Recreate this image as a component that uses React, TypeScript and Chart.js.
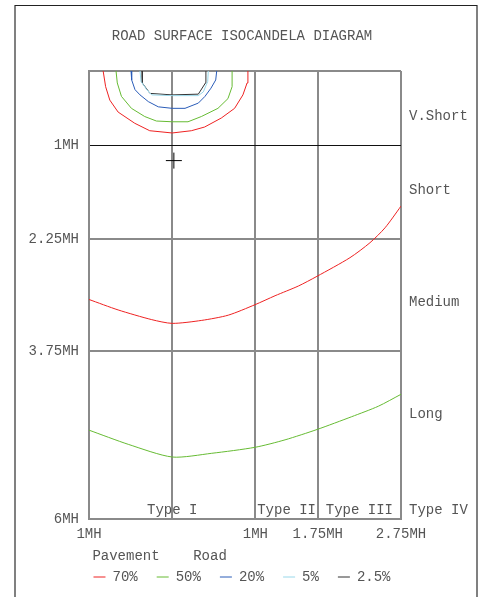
import { useEffect, useRef } from "react";
import { Chart, registerables } from "chart.js";

Chart.register(...registerables);

const FONT = "'Liberation Mono', 'DejaVu Sans Mono', monospace";
const TEXT_COLOR = "#555555";
const GRID_COLOR = "#8a8a8a";

const titleText = "ROAD SURFACE ISOCANDELA DIAGRAM";
const legendTitle = " Pavement    Road";

const xTickValues = [-1, 0, 1, 1.75, 2.75];
const xTickLabels = ["1MH", "", "1MH", "1.75MH", "2.75MH"];
const yTickValues = [0, 1, 2.25, 3.75, 6];
const yTickLabels = ["", "1MH", "2.25MH", "3.75MH", "6MH"];

const zoneLabels = ["V.Short", "Short", "Medium", "Long"];
const zonePositions = [0.6, 1.6, 3.1, 4.6];

const typeLabels = ["Type I", "Type II", "Type III", "Type IV"];
const typeCenters = [0, 1.375, 2.25, 3.2];

const legendLabels = ["70%", "50%", "20%", "5%", "2.5%"];
const seriesColors = ["#ee2222", "#66bb33", "#2a5cb8", "#99d8ea", "#333333"];

// Isocandela contours near the luminaire (x: MH across, y: MH along road)
const iso70X = [-0.83, -0.8, -0.75, -0.65, -0.45, -0.27, 0, 0.23, 0.39, 0.59, 0.75, 0.85, 0.9, 0.91];
const iso70Y = [0, 0.21, 0.39, 0.55, 0.7, 0.8, 0.83, 0.8, 0.75, 0.63, 0.5, 0.32, 0.16, 0];
const iso50X = [-0.675, -0.66, -0.61, -0.49, -0.33, -0.19, 0, 0.19, 0.35, 0.55, 0.67, 0.72, 0.72];
const iso50Y = [0, 0.16, 0.34, 0.5, 0.61, 0.67, 0.68, 0.68, 0.61, 0.5, 0.37, 0.21, 0];
const iso20X = [-0.495, -0.487, -0.447, -0.387, -0.287, -0.167, 0, 0.154, 0.314, 0.394, 0.466, 0.523, 0.535];
const iso20Y = [0, 0.12, 0.25, 0.32, 0.41, 0.48, 0.5, 0.5, 0.43, 0.34, 0.23, 0.12, 0];
const iso5X = [-0.387, -0.375, -0.306, -0.246, 0, 0.314, 0.374, 0.427, 0.434];
const iso5Y = [0, 0.14, 0.25, 0.32, 0.33, 0.33, 0.28, 0.14, 0];
const iso25X = [-0.36, -0.36, -0.267, 0, 0.314, 0.4, 0.405];
const iso25Y = [0, 0.16, 0.3, 0.32, 0.31, 0.16, 0];

// Lower traces
const trace70X = [-1, -0.65, -0.246, 0, 0.355, 0.674, 0.995, 1.236, 1.516, 1.74, 2.137, 2.377, 2.558, 2.75];
const trace70Y = [3.06, 3.2, 3.33, 3.38, 3.34, 3.27, 3.13, 3.01, 2.88, 2.75, 2.5, 2.3, 2.1, 1.81];
const trace50X = [-1, -0.528, 0, 0.475, 0.995, 1.356, 1.744, 2.157, 2.477, 2.75];
const trace50Y = [4.81, 5.0, 5.17, 5.12, 5.04, 4.94, 4.8, 4.63, 4.49, 4.33];

const markerX = [0.02];
const markerY = [1.2];

const pts = (xs: number[], ys: number[]) => xs.map((x, i) => ({ x, y: ys[i] }));

const contourSets = [
  [iso70X, iso70Y],
  [iso50X, iso50Y],
  [iso20X, iso20Y],
  [iso5X, iso5Y],
  [iso25X, iso25Y],
];

const framePlugin = {
  id: "pageFrame",
  beforeDraw(chart: any) {
    const { ctx, height } = chart;
    ctx.save();
    ctx.strokeStyle = "#808080";
    ctx.lineWidth = 2;
    ctx.beginPath();
    ctx.moveTo(15, 5);
    ctx.lineTo(15, height);
    ctx.moveTo(477, 5);
    ctx.lineTo(477, height);
    ctx.stroke();
    ctx.strokeStyle = "#222222";
    ctx.lineWidth = 1;
    ctx.beginPath();
    ctx.moveTo(15, 5.5);
    ctx.lineTo(477, 5.5);
    ctx.stroke();
    ctx.restore();
  },
};

const typeLabelPlugin = {
  id: "typeLabels",
  afterDraw(chart: any) {
    const { ctx, chartArea, scales } = chart;
    const x = scales.x;
    ctx.save();
    ctx.font = `14px ${FONT}`;
    ctx.fillStyle = TEXT_COLOR;
    ctx.textAlign = "center";
    ctx.textBaseline = "middle";
    typeLabels.forEach((t, i) => {
      ctx.fillText(t, x.getPixelForValue(typeCenters[i]), chartArea.bottom - 9);
    });
    ctx.restore();
  },
};

export default function App() {
  const canvasRef = useRef<HTMLCanvasElement | null>(null);

  useEffect(() => {
    if (!canvasRef.current) return;
    const datasets: any[] = legendLabels.map((label, i) => ({
      label,
      data: pts(contourSets[i][0], contourSets[i][1]),
      borderColor: seriesColors[i],
      backgroundColor: seriesColors[i],
      borderWidth: 1,
      pointRadius: 0,
      showLine: true,
      tension: 0,
      fill: false,
    }));
    datasets.push({
      label: "70% trace",
      data: pts(trace70X, trace70Y),
      borderColor: seriesColors[0],
      backgroundColor: seriesColors[0],
      borderWidth: 1,
      pointRadius: 0,
      showLine: true,
      tension: 0.25,
      fill: false,
    });
    datasets.push({
      label: "50% trace",
      data: pts(trace50X, trace50Y),
      borderColor: seriesColors[1],
      backgroundColor: seriesColors[1],
      borderWidth: 1,
      pointRadius: 0,
      showLine: true,
      tension: 0.25,
      fill: false,
    });
    datasets.push({
      label: "Luminaire",
      data: pts(markerX, markerY),
      borderColor: "#000000",
      backgroundColor: "#000000",
      borderWidth: 1,
      pointStyle: "cross",
      pointRadius: 8,
      showLine: false,
    });

    const tickFont = { family: FONT, size: 14 };

    const chart = new Chart(canvasRef.current, {
      type: "scatter",
      data: { datasets },
      plugins: [framePlugin, typeLabelPlugin],
      options: {
        animation: false,
        responsive: true,
        maintainAspectRatio: false,
        events: [],
        layout: { padding: { left: 0, right: 0, top: 0, bottom: 3 } },
        scales: {
          x: {
            type: "linear",
            min: -1,
            max: 2.75,
            afterBuildTicks: (scale: any) => {
              scale.ticks = xTickValues.map((v) => ({ value: v }));
            },
            afterFit: (scale: any) => {
              scale.height = 24;
            },
            ticks: {
              autoSkip: false,
              maxRotation: 0,
              padding: 7,
              color: TEXT_COLOR,
              font: tickFont,
              callback: (_v: any, i: number) => xTickLabels[i],
            },
            grid: { color: GRID_COLOR, lineWidth: 2, drawTicks: false },
            border: { color: GRID_COLOR, width: 2 },
          },
          y: {
            type: "linear",
            min: 0,
            max: 6,
            reverse: true,
            afterBuildTicks: (scale: any) => {
              scale.ticks = yTickValues.map((v) => ({ value: v }));
            },
            afterFit: (scale: any) => {
              scale.width = 89;
            },
            ticks: {
              autoSkip: false,
              padding: 10,
              color: TEXT_COLOR,
              font: tickFont,
              callback: (_v: any, i: number) => yTickLabels[i],
            },
            grid: {
              color: (c: any) => (c.tick && c.tick.value === 1 ? "#111111" : GRID_COLOR),
              lineWidth: (c: any) => (c.tick && c.tick.value === 1 ? 1 : 2),
              drawTicks: false,
            },
            border: { color: GRID_COLOR, width: 2 },
          },
          zone: {
            type: "linear",
            position: "right",
            min: 0,
            max: 6,
            reverse: true,
            afterBuildTicks: (scale: any) => {
              scale.ticks = zonePositions.map((v) => ({ value: v }));
            },
            afterFit: (scale: any) => {
              scale.width = 83;
            },
            ticks: {
              autoSkip: false,
              padding: 8,
              color: TEXT_COLOR,
              font: tickFont,
              callback: (_v: any, i: number) => zoneLabels[i],
            },
            grid: { display: false, drawTicks: false },
            border: { display: false },
          },
        },
        plugins: {
          title: {
            display: true,
            text: titleText,
            color: TEXT_COLOR,
            font: { family: FONT, size: 14, weight: "normal" },
            padding: { top: 27.6, bottom: 26.6 },
          },
          legend: {
            display: true,
            position: "bottom",
            align: "center",
            title: {
              display: true,
              text: legendTitle,
              color: TEXT_COLOR,
              position: "start",
              font: { family: FONT, size: 14 },
              padding: { top: 6.6, bottom: -15.4 },
            },
            labels: {
              usePointStyle: true,
              pointStyle: "line",
              pointStyleWidth: 12,
              padding: 19,
              color: TEXT_COLOR,
              font: { family: FONT, size: 14 },
              filter: (item: any) => item.datasetIndex < 5,
            },
          },
          tooltip: { enabled: false },
        },
      } as any,
    });
    return () => chart.destroy();
  }, []);

  return (
    <div style={{ position: "absolute", left: 0, top: 0, width: 484, height: 597, background: "#ffffff" }}>
      <canvas ref={canvasRef} />
    </div>
  );
}
